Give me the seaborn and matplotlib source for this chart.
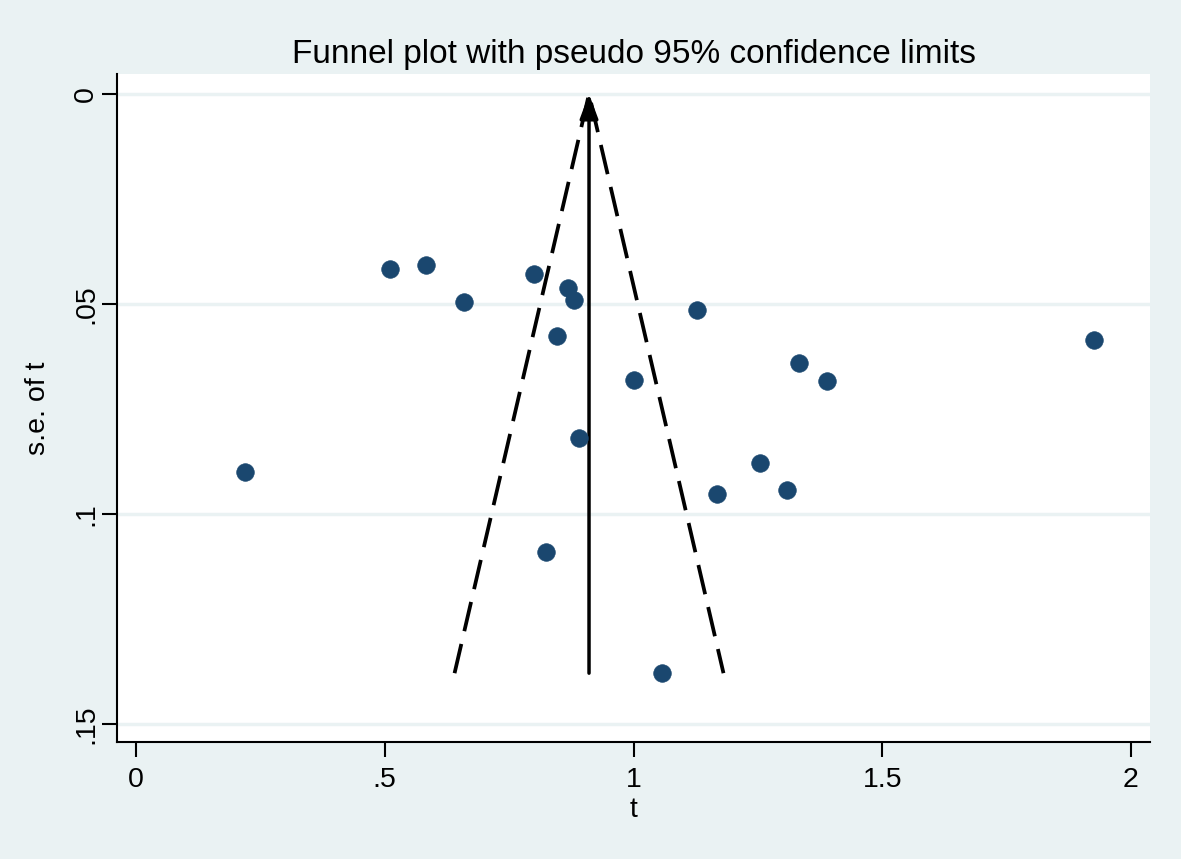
import matplotlib
matplotlib.use("Agg")
import matplotlib.pyplot as plt
import seaborn as sns
import numpy as np
import pandas as pd

# Data
t_values = [0.219, 0.511, 0.583, 0.659, 0.800, 0.868, 0.880, 0.846, 0.890, 0.824,
            1.001, 1.128, 1.057, 1.168, 1.254, 1.309, 1.332, 1.389, 1.926]
se_values = [0.0900, 0.0417, 0.0407, 0.0495, 0.0429, 0.0462, 0.0490, 0.0576, 0.0819, 0.1090,
             0.0681, 0.0514, 0.1379, 0.0952, 0.0879, 0.0943, 0.0640, 0.0683, 0.0586]
pooled_t = 0.9106
x_ticks = [0, 0.5, 1, 1.5, 2]
x_tick_labels = ["0", ".5", "1", "1.5", "2"]
y_ticks = [0, 0.05, 0.1, 0.15]
y_tick_labels = ["0", ".05", ".1", ".15"]

df = pd.DataFrame({"t": t_values, "se": se_values})

bg = "#EAF2F3"
navy = "#1A476F"

sns.set_style("white")
plt.rcParams["font.family"] = ["Liberation Sans", "DejaVu Sans"]
plt.rcParams["text.color"] = "black"
plt.rcParams["axes.labelcolor"] = "black"
plt.rcParams["xtick.color"] = "black"
plt.rcParams["ytick.color"] = "black"

fig = plt.figure(figsize=(11.81, 8.59), dpi=100, facecolor=bg)
ax = fig.add_axes([117/1181, 1-742/859, (1150-117)/1181, (742-74)/859])
ax.set_facecolor("white")

for yt in y_ticks:
    ax.axhline(yt, color=bg, lw=2.5, zorder=0)

# Funnel limits
se_max = max(se_values)
lo = pooled_t - 1.96 * se_max
hi = pooled_t + 1.96 * se_max
ax.plot([lo, pooled_t, hi], [se_max, 0, se_max], color="black", lw=2.7,
        linestyle=(0, (8, 3.5)), zorder=2)
ax.annotate("", xy=(pooled_t, 0), xytext=(pooled_t, se_max),
            arrowprops=dict(arrowstyle="-|>,head_length=0.75,head_width=0.28",
                            mutation_scale=20, color="black", lw=2.5,
                            shrinkA=0, shrinkB=0),
            zorder=3)

sns.scatterplot(data=df, x="t", y="se", ax=ax, color=navy, s=160,
                edgecolor=navy, linewidth=0.5, zorder=4, legend=False)

ax.set_xlim((117-136)/497.5, (1150-136)/497.5)
ax.set_ylim(0.15 + (742-724)/4200, -(94-74)/4200)

ax.set_xticks(x_ticks)
ax.set_xticklabels(x_tick_labels, fontsize=20.5)
ax.set_yticks(y_ticks)
ax.set_yticklabels(y_tick_labels, fontsize=20.5, rotation=90, va="center")

ax.tick_params(axis="both", which="major", direction="out", length=11, width=1.5,
               color="black", bottom=True, left=True, top=False, right=False)
ax.tick_params(axis="x", pad=7)
ax.tick_params(axis="y", pad=2)

for side in ["top", "right"]:
    ax.spines[side].set_visible(False)
for side in ["left", "bottom"]:
    ax.spines[side].set_color("black")
    ax.spines[side].set_linewidth(1.5)

ax.set_xlabel("t", fontsize=20.5, labelpad=3)
ax.set_ylabel("s.e. of t", fontsize=20.5, labelpad=16)
ax.set_title("Funnel plot with pseudo 95% confidence limits", fontsize=24, pad=8)

fig.savefig("out.png", dpi=100, facecolor=bg)
